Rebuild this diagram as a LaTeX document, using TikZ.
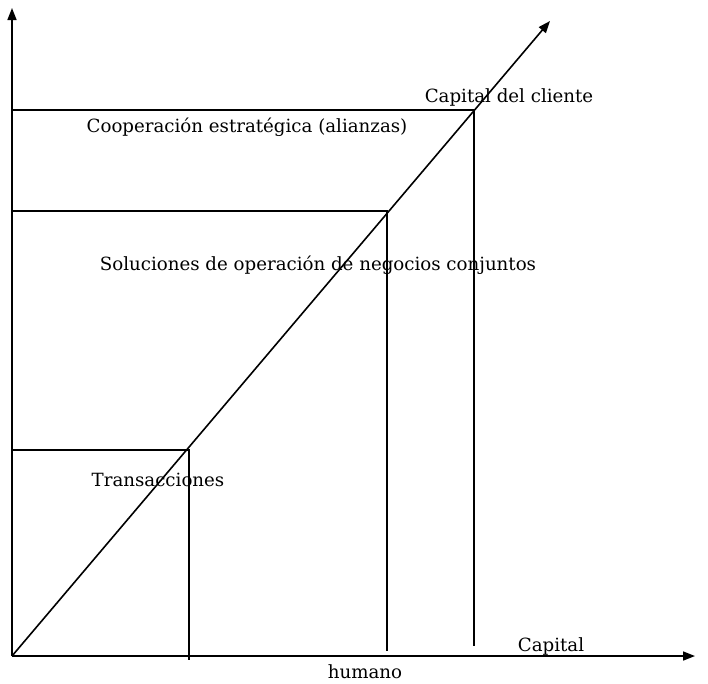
\documentclass[tikz,border=0pt]{standalone}
\usepackage{fontspec}
\setmainfont{DejaVu Serif}
\usetikzlibrary{arrows.meta}
\begin{document}
\begin{tikzpicture}[x=1pt,y=-1pt,
  axis/.style={line width=1.6pt,-{Triangle[length=12pt,width=9pt]}},
  thin line/.style={line width=1.4pt},
  lbl/.style={inner sep=0pt,font=\fontsize{18.2}{21}\selectfont}]
\useasboundingbox (0,0) rectangle (708,683);
\coordinate (O) at (12,656);
\coordinate (Ytip) at (12,8);
\coordinate (Xtip) at (695,656);
\coordinate (Dtip) at (550,21);
\coordinate (L1) at (12,450);
\coordinate (C1) at (187,450);
\coordinate (B1) at (189,660);
\coordinate (L2) at (12,211);
\coordinate (C2) at (387,211);
\coordinate (B2) at (387,651);
\coordinate (L3) at (12,110);
\coordinate (C3) at (474,110);
\coordinate (B3) at (474,646);
\draw[axis] (O) -- (Ytip);
\draw[axis] (O) -- (Xtip);
\draw[axis] (O) -- (Dtip);
\draw[thin line] (L1) -- (C1 -| B1) -- (B1);
\draw[thin line] (L2) -- (C2) -- (B2);
\draw[thin line] (L3) -- (C3) -- (B3);
\node[lbl] (capcli) at (509,97) {Capital del cliente};
\node[lbl] (coop) at (247,127) {Cooperación estratégica (alianzas)};
\node[lbl] (sol) at (318,265) {Soluciones de operación de negocios conjuntos};
\node[lbl] (trans) at (158,480) {Transacciones};
\node[lbl] (cap) at (551,646) {Capital};
\node[lbl] (hum) at (365,672) {humano};
\end{tikzpicture}
\end{document}
